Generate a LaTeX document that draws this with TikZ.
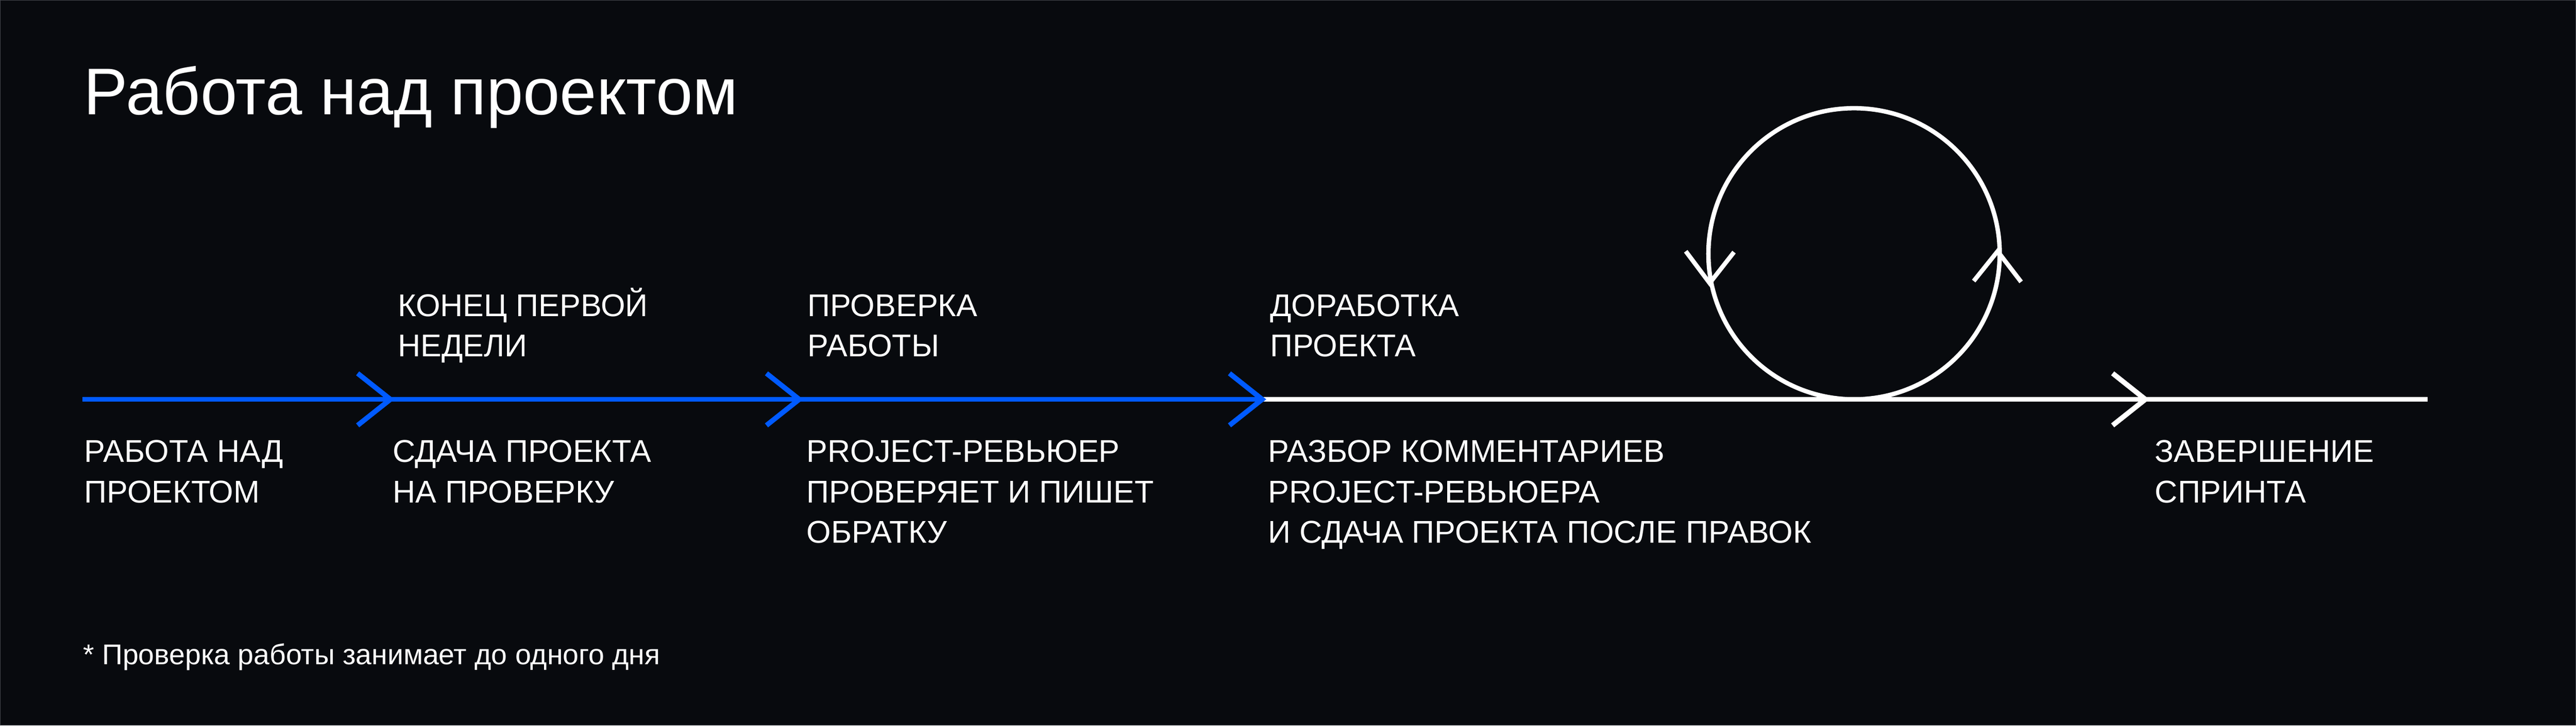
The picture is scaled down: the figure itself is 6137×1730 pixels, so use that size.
\documentclass[tikz,border=0pt]{standalone}
\usepackage{fontspec}
\setmainfont{Liberation Sans}
\definecolor{bg}{RGB}{8,10,14}
\definecolor{pblue}{RGB}{0,90,255}
\definecolor{frame}{RGB}{70,72,78}
\begin{document}
\begin{tikzpicture}[x=0.1pt,y=-0.1pt,
  lbl/.style={anchor=base west, inner sep=0pt, text=white, align=left,
    font=\fontsize{7.5pt}{9.6pt}\selectfont},
  titletxt/.style={anchor=base west, inner sep=0pt, text=white,
    font=\fontsize{15.75pt}{18pt}\selectfont},
  notetxt/.style={anchor=base west, inner sep=0pt, text=white,
    font=\fontsize{6.8pt}{8pt}\selectfont},
  bluepath/.style={draw=pblue, line width=1.2pt, miter limit=10},
  whitepath/.style={draw=white, line width=1.2pt, miter limit=10},
  looppath/.style={draw=white, line width=1.05pt, miter limit=10}]
\fill[bg] (0,0) rectangle (6137,1730);
\useasboundingbox (0,0) rectangle (6137,1730);
\draw[frame, line width=0.15pt] (1,1) rectangle (6136,1729);

% title and note
\node[titletxt] (title) at (198,273) {Работа над проектом};
\node[notetxt] (note) at (196,1584) {* Проверка работы занимает до одного дня};

% timeline points
\coordinate (start) at (196,952);
\coordinate (a1) at (930,952);
\coordinate (a2) at (1904,952);
\coordinate (a3) at (3007,952);
\coordinate (a4) at (5111,952);
\coordinate (finish) at (5783,952);

\draw[bluepath] (start) -- (a3);
\draw[whitepath] (a3) -- (finish);

% chevrons
\draw[bluepath] (a1) ++(-78,-62) -- (a1) -- ++(-78,62);
\draw[bluepath] (a2) ++(-78,-62) -- (a2) -- ++(-78,62);
\draw[bluepath] (a3) ++(-78,-62) -- (a3) -- ++(-78,62);
\draw[whitepath] (a4) ++(-78,-62) -- (a4) -- ++(-78,62);

% loop
\coordinate (lc) at (4417,605);
\draw[looppath] (lc) circle [radius=347];
\coordinate (ltip) at (4073,675);
\coordinate (rtip) at (4759,599);
\draw[looppath] (ltip) ++(-57,-76) -- (ltip) -- ++(58,-74);
\draw[looppath] (rtip) ++(-57,71) -- (rtip) -- ++(56,73);

% labels above (anchored at the baseline of the last line)
\node[lbl] (t1) at (946,850) {КОНЕЦ ПЕРВОЙ\\НЕДЕЛИ};
\node[lbl] (t2) at (1922,850) {ПРОВЕРКА\\РАБОТЫ};
\node[lbl] (t3) at (3024,850) {ДОРАБОТКА\\ПРОЕКТА};

% labels below
\node[lbl] (b0) at (199,1198) {РАБОТА НАД\\ПРОЕКТОМ};
\node[lbl] (b1) at (934,1198) {СДАЧА ПРОЕКТА\\НА ПРОВЕРКУ};
\node[lbl] (b2) at (1920,1294) {PROJECT-РЕВЬЮЕР\\ПРОВЕРЯЕТ И ПИШЕТ\\ОБРАТКУ};
\node[lbl] (b3) at (3019,1294) {РАЗБОР КОММЕНТАРИЕВ\\PROJECT-РЕВЬЮЕРА\\И СДАЧА ПРОЕКТА ПОСЛЕ ПРАВОК};
\node[lbl] (b4) at (5132,1198) {ЗАВЕРШЕНИЕ\\СПРИНТА};
\end{tikzpicture}
\end{document}
